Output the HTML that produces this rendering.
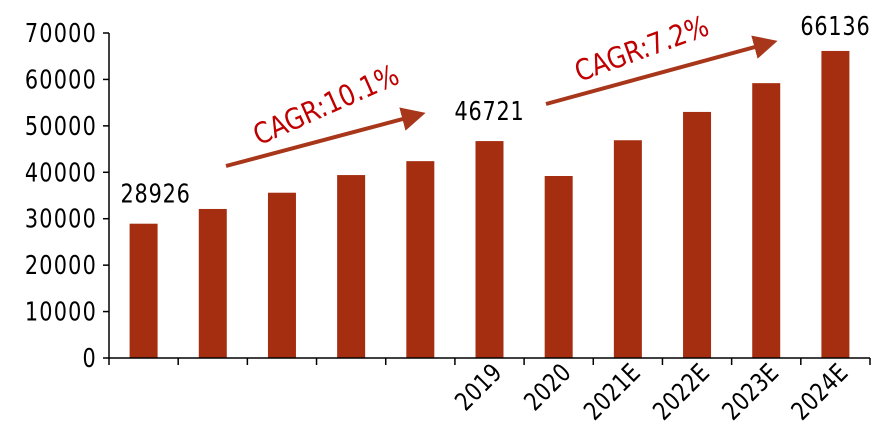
<!DOCTYPE html>
<html><head><meta charset="utf-8"><style>
html,body{margin:0;padding:0;background:#fff;}
svg{display:block;font-family:"DejaVu Sans","Liberation Sans",sans-serif;}
</style></head><body>
<svg width="872" height="448" xmlns="http://www.w3.org/2000/svg">
<defs><marker id="ah" markerWidth="6" markerHeight="6" refX="3" refY="3" orient="auto" markerUnits="strokeWidth"><path d="M0,0 L6,3 L0,6 Z" fill="#a8361a"/></marker></defs>
<g id="g"></g>
</svg>
<script>
const categories=["2014","2015","2016","2017","2018","2019","2020","2021E","2022E","2023E","2024E"];
const shownLabels=["","","","","","2019","2020","2021E","2022E","2023E","2024E"];
const values=[28926,32100,35600,39400,42400,46721,39200,46900,53000,59200,66136];
const annotated=[28926,null,null,null,null,46721,null,null,null,null,66136];
const yTicks=[0,10000,20000,30000,40000,50000,60000,70000];
const NS="http://www.w3.org/2000/svg";
const g=document.getElementById('g');
const x0=109,x1=870,y0=358,yTop=33,yMax=70000;
const bw=(x1-x0)/categories.length;
function X(i){return x0+bw*(i+0.5);}
function Y(v){return y0-(v/yMax)*(y0-yTop);}
function mk(t,a,txt){const e=document.createElementNS(NS,t);for(const k in a)e.setAttribute(k,a[k]);if(txt!==undefined)e.textContent=txt;g.appendChild(e);return e;}
yTicks.forEach(v=>{
 const t=mk('line',{x1:x0-6,x2:x0,y1:Y(v),y2:Y(v),stroke:'#000','stroke-width':1.5});
 
 
 const l=mk('text',{x:0,y:0,'text-anchor':'end','font-size':26,'letter-spacing':1.5,fill:'#000',transform:`translate(${x0-12},${Y(v)+9}) scale(0.8,1)`},String(v));
 
 
});
values.forEach((v,i)=>{
 const b=mk('rect',{x:X(i)-14,y:Y(v),width:28,height:y0-Y(v),fill:'#a52e10'});
 
 
 if(annotated[i]!==null){
  const dx=(i===0)?12:0, dy=(i===categories.length-1)?-16:-21;
  const t=mk('text',{x:0,y:0,'text-anchor':'middle','font-size':26,'letter-spacing':1,fill:'#000',transform:`translate(${X(i)+dx},${Y(v)+dy}) scale(0.8,1)`},String(annotated[i]));
  
  
 }
});
for(let i=0;i<=categories.length;i++){
 const t=mk('line',{x1:x0+bw*i,x2:x0+bw*i,y1:y0,y2:y0+7,stroke:'#000','stroke-width':1.5});
 
 
}
shownLabels.forEach((s,i)=>{
 if(!s)return;
 const cx=X(i)+14,cy=374;
 const t=mk('text',{x:0,y:0,'text-anchor':'end','font-size':25,'letter-spacing':0.5,fill:'#000',transform:`translate(${cx},${cy}) rotate(-45) scale(0.82,1)`},s);
 
 
});
const ax=mk('line',{x1:x0,x2:x0,y1:yTop,y2:y0,stroke:'#000','stroke-width':1.5});


const bx=mk('line',{x1:x0,x2:x1,y1:y0,y2:y0,stroke:'#000','stroke-width':1.5});


const a1=mk('line',{x1:226,y1:166,x2:414,y2:116,stroke:'#a8361a','stroke-width':4,'marker-end':'url(#ah)'});


const a2=mk('line',{x1:546,y1:104,x2:766,y2:44,stroke:'#a8361a','stroke-width':4,'marker-end':'url(#ah)'});


const c1=mk('text',{x:0,y:0,'text-anchor':'middle','font-size':29,fill:'#c00000',transform:'translate(330,114) rotate(-24) scale(0.85,1)'},'CAGR:10.1%');


const c2=mk('text',{x:0,y:0,'text-anchor':'middle','font-size':29,fill:'#c00000',transform:'translate(645,58) rotate(-20) scale(0.85,1)'},'CAGR:7.2%');


</script>
</body></html>
